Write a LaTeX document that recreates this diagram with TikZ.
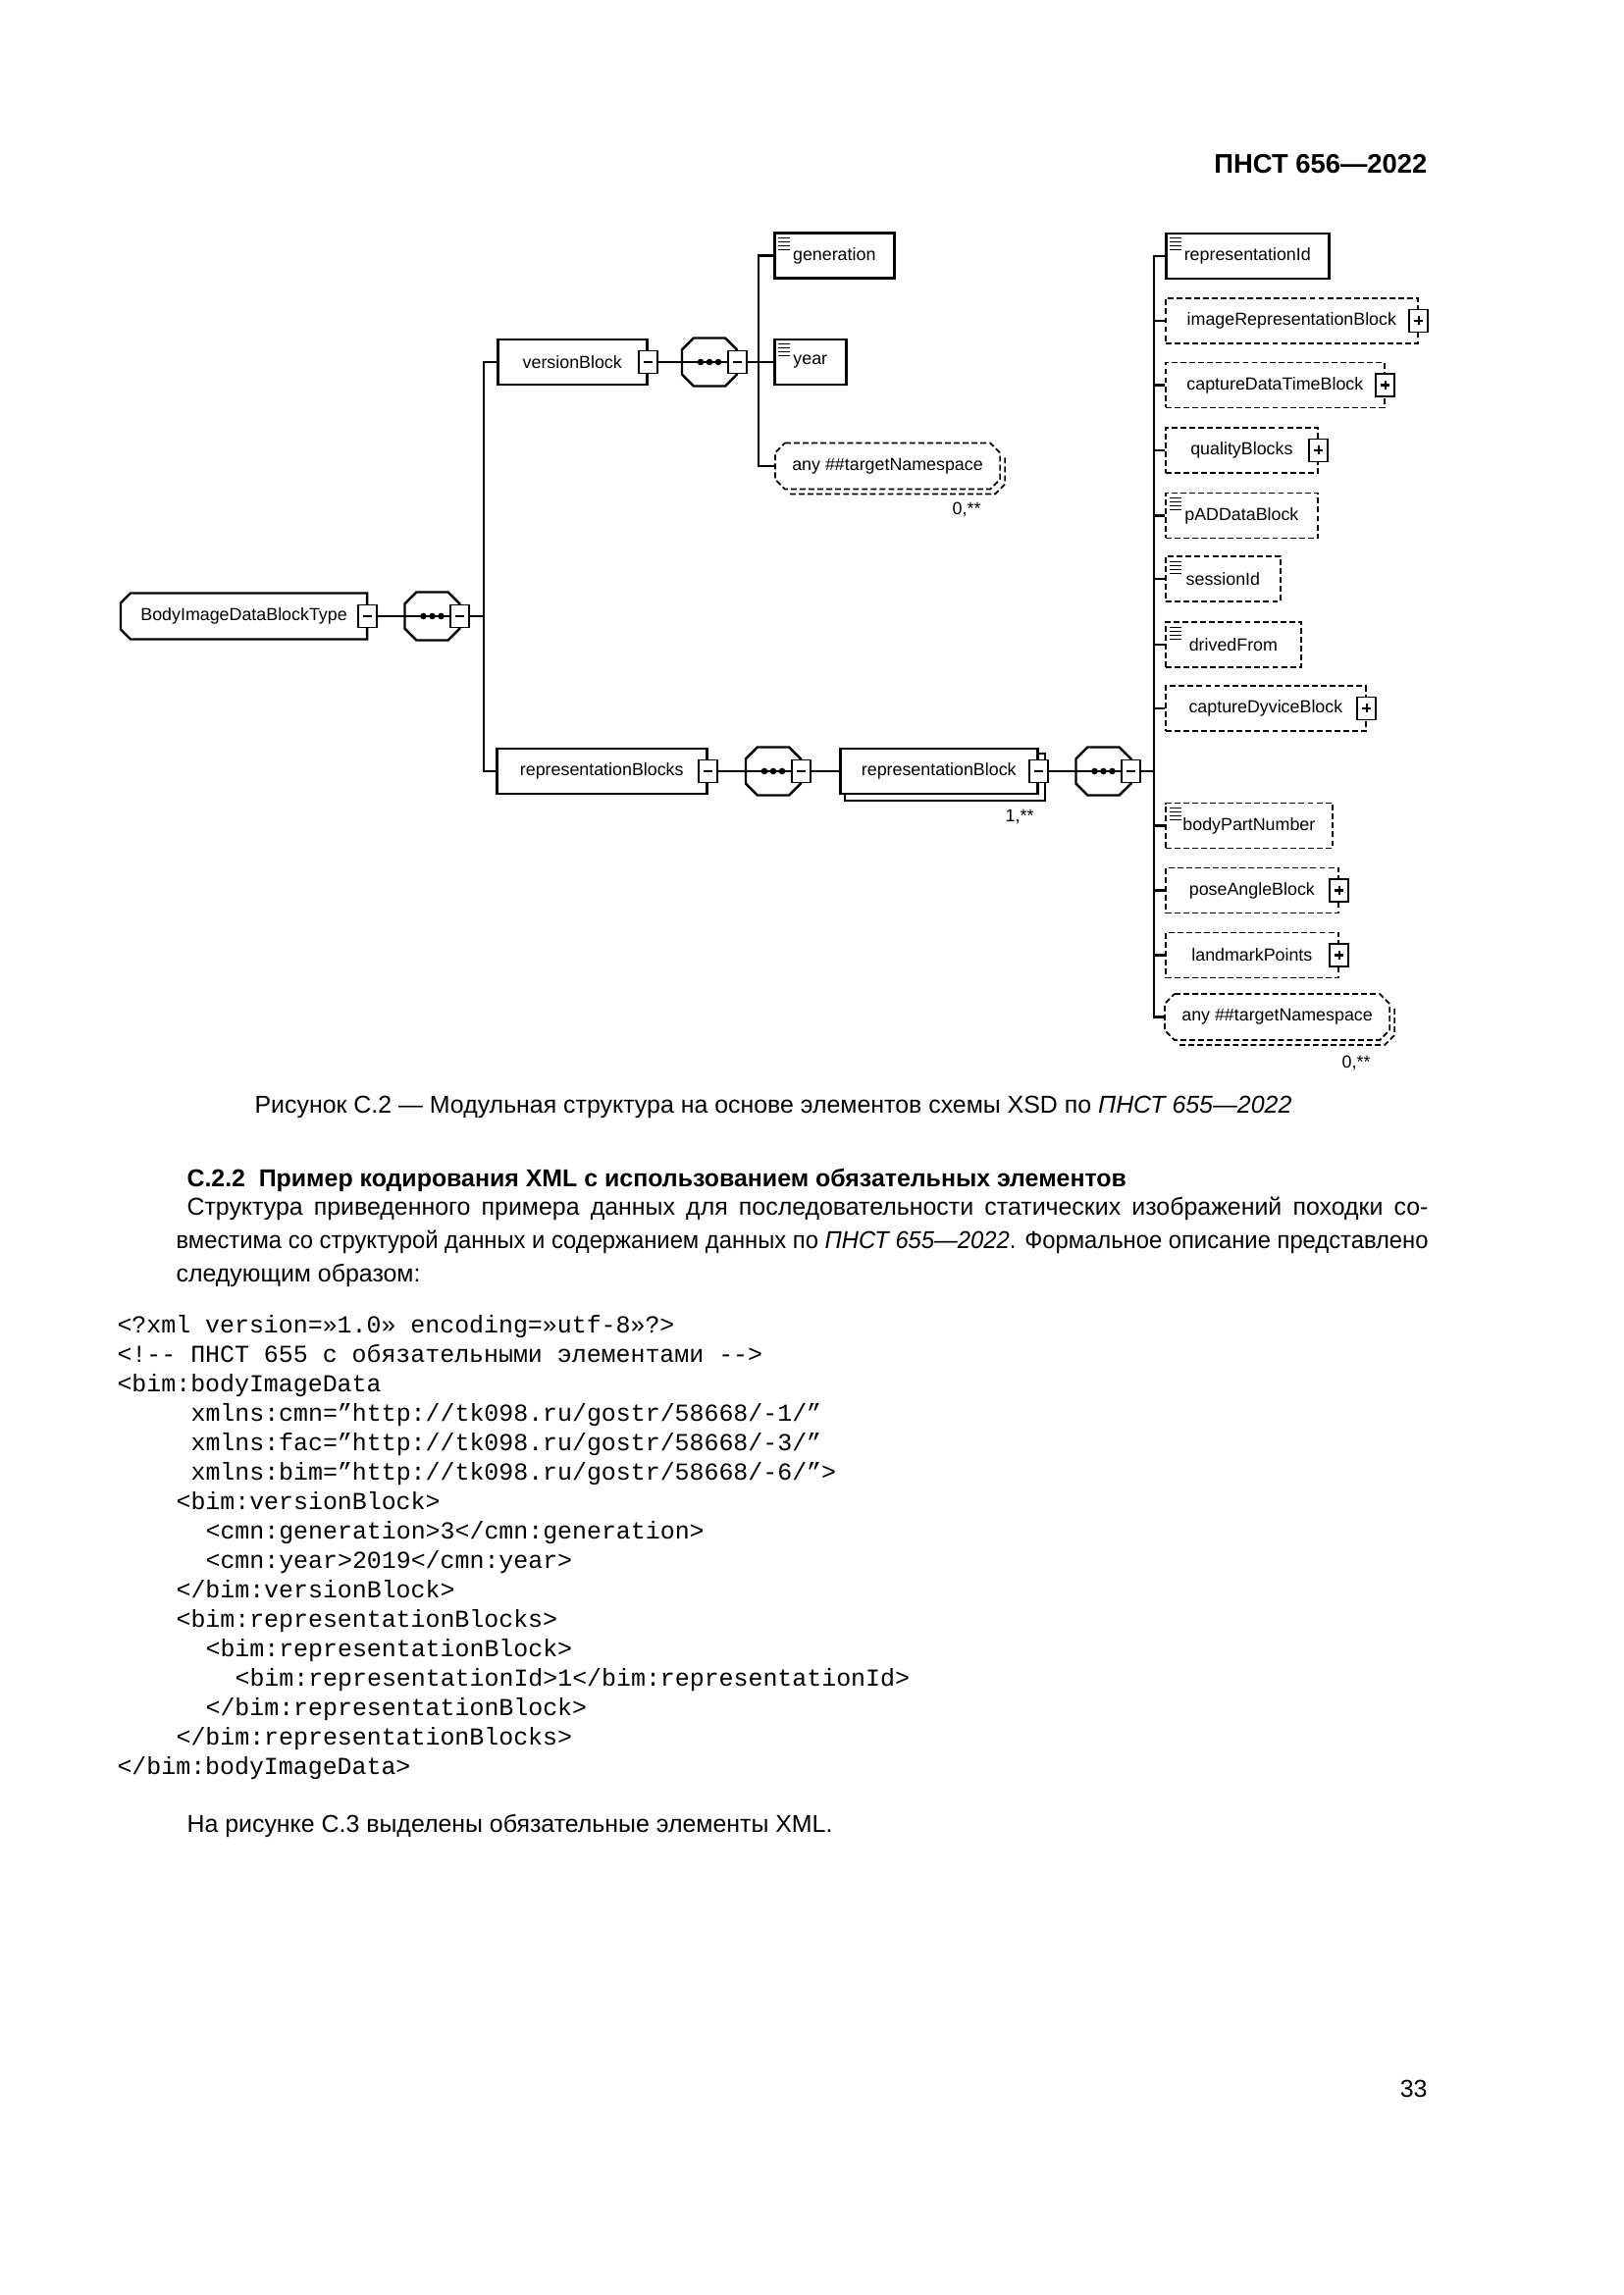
\documentclass[tikz,border=0pt]{standalone}
\usepackage{fontspec}
\usepackage{graphicx}
\setmainfont{Liberation Sans}
\setmonofont{Liberation Mono}
\usetikzlibrary{calc}
\newlength\pxl
\setlength\pxl{0.127mm}
\newcommand\diagfont{\fontsize{6.45}{7.7}\selectfont}
\newcommand\bodyfont{\fontsize{9}{11}\selectfont}
\newcommand\codefont{\ttfamily\fontsize{9}{10.8}\selectfont}
\begin{document}
\begin{tikzpicture}[x=0.127mm, y=-0.127mm,
  conn/.style={line width=0.27mm},
  elem/.style={draw, line width=0.32mm, minimum height=46*\pxl, inner sep=0pt, anchor=west, font=\diagfont},
  optelem/.style={elem, line width=0.22mm, dash pattern=on 0.75mm off 0.4mm},
  hidden/.style={minimum height=46*\pxl, inner sep=0pt, anchor=west, font=\diagfont},
  seqbox/.style={minimum width=55*\pxl, minimum height=48*\pxl, inner sep=0pt},
  tog/.style={draw, fill=white, line width=0.25mm, minimum width=19*\pxl, minimum height=23*\pxl, inner sep=0pt},
  outline/.style={line width=0.3mm},
  anyline/.style={line width=0.22mm, dash pattern=on 0.75mm off 0.4mm},
  bar/.style={line width=0.28mm},
  txt/.style={inner sep=0pt, font=\bodyfont},
  code/.style={inner sep=0pt, anchor=base west, font=\codefont}]
\fill[white] (0,0) rectangle (1654,2339);
\useasboundingbox (0,0) rectangle (1654,2339);

\node[txt, anchor=base east, font=\bfseries\fontsize{9.9}{12}\selectfont] (header) at (1455,177) {ПНСТ 656—2022};

% schema
\node[hidden, minimum width=250*\pxl] (body) at (123,628) {BodyImageDataBlockType};
\node[seqbox] (bodyseq) at (440.5,628) {};
\node[elem, minimum width=152*\pxl] (version) at (506,369) {versionBlock};
\node[seqbox] (verseq) at (723,369) {};
\node[elem, minimum width=122*\pxl] (generation) at (788,260.5) {generation};
\node[elem, minimum width=73*\pxl] (year) at (788,369) {year};
\node[hidden, minimum width=228*\pxl] (anyver) at (790,475) {any \#\#targetNamespace};
\node[elem, minimum width=214*\pxl] (repblocks) at (505,786) {representationBlocks};
\node[seqbox] (repseq) at (788,786) {};
\node[elem, minimum width=201*\pxl] (rep) at (855,786) {representationBlock};
\node[seqbox] (elseq) at (1124.5,786) {};

\node[elem, minimum width=166*\pxl] (repid) at (1187,261) {representationId};
\node[optelem, minimum width=257*\pxl] (imgrep) at (1187,327) {imageRepresentationBlock};
\node[optelem, minimum width=223*\pxl] (capdt) at (1187,392.5) {captureDataTimeBlock};
\node[optelem, minimum width=155*\pxl] (quality) at (1187,459) {qualityBlocks};
\node[optelem, minimum width=155*\pxl] (pad) at (1187,525.5) {pADDataBlock};
\node[optelem, minimum width=117*\pxl] (session) at (1187,590) {sessionId};
\node[optelem, minimum width=138*\pxl] (drived) at (1187,657) {drivedFrom};
\node[optelem, minimum width=204*\pxl] (capdev) at (1187,722) {captureDyviceBlock};
\node[optelem, minimum width=170*\pxl] (bodypart) at (1187,841.5) {bodyPartNumber};
\node[optelem, minimum width=176*\pxl] (pose) at (1187,907.5) {poseAngleBlock};
\node[optelem, minimum width=176*\pxl] (landmark) at (1187,973.5) {landmarkPoints};
\node[hidden, minimum width=228*\pxl] (anyrep) at (1187,1036.5) {any \#\#targetNamespace};

\node[txt, anchor=base east, font=\diagfont] (anyvern) at (1000,525) {0,**};
\node[txt, anchor=base east, font=\diagfont] (repn) at (1054,837) {1,**};
\node[txt, anchor=base east, font=\diagfont] (anyrepn) at (1397,1088) {0,**};

% outlines
\draw[outline] (body.north east) -- ($(body.north west)+(10,0)$) -- ($(body.north west)+(0,10)$) -- ($(body.south west)+(0,-10)$) -- ($(body.south west)+(10,0)$) -- (body.south east) -- cycle;
\foreach \s in {bodyseq,verseq,repseq,elseq}
  \draw[outline] ($(\s.north west)+(12,0)$) -- ($(\s.north east)+(-12,0)$) -- ($(\s.north east)+(0,12)$) -- ($(\s.south east)+(0,-12)$) -- ($(\s.south east)+(-12,0)$) -- ($(\s.south west)+(12,0)$) -- ($(\s.south west)+(0,-12)$) -- ($(\s.north west)+(0,12)$) -- cycle;
\foreach \a in {anyver,anyrep}{
  \draw[anyline] ($(\a.north west)+(10,0)$) -- ($(\a.north east)+(-10,0)$) -- ($(\a.north east)+(0,10)$) -- ($(\a.south east)+(0,-10)$) -- ($(\a.south east)+(-10,0)$) -- ($(\a.south west)+(10,0)$) -- ($(\a.south west)+(0,-10)$) -- ($(\a.north west)+(0,10)$) -- cycle;
  \draw[anyline] ($(\a.north east)+(5,15)$) -- ($(\a.south east)+(5,-5)$) -- ($(\a.south east)+(-5,5)$) -- ($(\a.south west)+(15,5)$);
}
\draw[line width=0.25mm] ($(rep.north east)+(0,6)$) -- ($(rep.north east)+(6,6)$) -- ($(rep.south east)+(6,6)$) -- ($(rep.south west)+(6,6)$) -- ($(rep.south west)+(6,0)$);

% minus and plus boxes
\node[tog] (bodym) at (body.east) {};
\node[tog] (bodyseqm) at (bodyseq.east) {};
\node[tog] (versionm) at (version.east) {};
\node[tog] (verseqm) at (verseq.east) {};
\node[tog] (repblocksm) at (repblocks.east) {};
\node[tog] (repseqm) at (repseq.east) {};
\node[tog] (repm) at (rep.east) {};
\node[tog] (elseqm) at (elseq.east) {};
\foreach \n in {imgrep,capdt,quality,capdev,pose,landmark}
  \node[tog] (p\n) at (\n.east) {};

% connectors
\coordinate (lb) at (493,628);
\coordinate (vb) at (773,369);
\coordinate (rb) at (1176,786);
\draw[conn] (bodym.east) -- (bodyseqm.west);
\draw[conn] (bodyseqm.east) -- (lb);
\draw[conn] (version.west) -| (lb) |- (repblocks.west);
\draw[conn] (versionm.east) -- (verseqm.west);
\draw[conn] (verseqm.east) -- (vb) -- (year.west);
\draw[conn] (generation.west) -| (vb) |- (anyver.west);
\draw[conn] (repblocksm.east) -- (repseqm.west);
\draw[conn] (repseqm.east) -- (rep.west);
\draw[conn] (repm.east) -- (elseqm.west);
\draw[conn] (elseqm.east) -- (rb);
\draw[conn] (repid.west) -| (rb) |- (anyrep.west);
\foreach \n in {imgrep,capdt,quality,pad,session,drived,capdev,bodypart,pose,landmark}
  \draw[conn] (rb |- \n.west) -- (\n.west);

% signs, dots, icons
\foreach \n in {bodym,bodyseqm,versionm,verseqm,repblocksm,repseqm,repm,elseqm}
  \draw[bar] ($(\n)+(-4.5,0)$) -- ($(\n)+(4.5,0)$);
\foreach \n in {imgrep,capdt,quality,capdev,pose,landmark}{
  \draw[bar] ($(p\n)+(-4.5,0)$) -- ($(p\n)+(4.5,0)$);
  \draw[bar] ($(p\n)+(0,-4.5)$) -- ($(p\n)+(0,4.5)$);
}
\foreach \s in {bodyseq,verseq,repseq,elseq}
  \foreach \d in {-9,0,9}
    \fill ($(\s)+(\d,0)$) circle[radius=0.42mm];
\foreach \n in {generation,year,repid,pad,session,drived,bodypart}
  \foreach \k in {6,10,14,18}
    \draw[line width=0.16mm] ($(\n.north west)+(5,\k)$) -- ++(12,0);

% text
\node[txt, anchor=base] (caption) at (788,1134) {Рисунок С.2 — Модульная структура на основе элементов схемы XSD по \textit{ПНСТ 655—2022}};
\node[txt, anchor=base west, font=\bodyfont\bfseries] (heading) at (190,1209) {С.2.2\hspace{0.55em}Пример кодирования XML с использованием обязательных элементов};
\node[txt, anchor=base west] (line1) at (179,1238) {\makebox[1276\pxl][s]{\hspace*{11\pxl}Структура приведенного примера данных для последовательности статических изображений походки со-}};
\node[txt, anchor=base west] (line2) at (179,1272) {\resizebox{1276\pxl}{\height}{вместима со структурой данных и содержанием данных по \textit{ПНСТ 655—2022}. Формальное описание представлено}};
\node[txt, anchor=base west] (line3) at (179,1306) {следующим образом:};

\node[code] (xml1) at (119,1358) {<?xml version=»1.0» encoding=»utf-8»?>};
\node[code] (xml2) at (119,1388) {<!-\kern0pt- ПНСТ 655 с обязательными элементами -\kern0pt->};
\node[code] (xml3) at (119,1418) {<bim:bodyImageData};
\node[code] (xml4) at (194,1448) {xmlns:cmn=”http://tk098.ru/gostr/58668/-1/”};
\node[code] (xml5) at (194,1478) {xmlns:fac=”http://tk098.ru/gostr/58668/-3/”};
\node[code] (xml6) at (194,1508) {xmlns:bim=”http://tk098.ru/gostr/58668/-6/”>};
\node[code] (xml7) at (179,1538) {<bim:versionBlock>};
\node[code] (xml8) at (209,1568) {<cmn:generation>3</cmn:generation>};
\node[code] (xml9) at (209,1598) {<cmn:year>2019</cmn:year>};
\node[code] (xml10) at (179,1628) {</bim:versionBlock>};
\node[code] (xml11) at (179,1658) {<bim:representationBlocks>};
\node[code] (xml12) at (209,1688) {<bim:representationBlock>};
\node[code] (xml13) at (239,1718) {<bim:representationId>1</bim:representationId>};
\node[code] (xml14) at (209,1748) {</bim:representationBlock>};
\node[code] (xml15) at (179,1778) {</bim:representationBlocks>};
\node[code] (xml16) at (119,1808) {</bim:bodyImageData>};

\node[txt, anchor=base west] (closing) at (190,1867) {На рисунке С.3 выделены обязательные элементы XML.};
\node[txt, anchor=base east] (pagenum) at (1455,2137) {33};
\end{tikzpicture}
\end{document}
